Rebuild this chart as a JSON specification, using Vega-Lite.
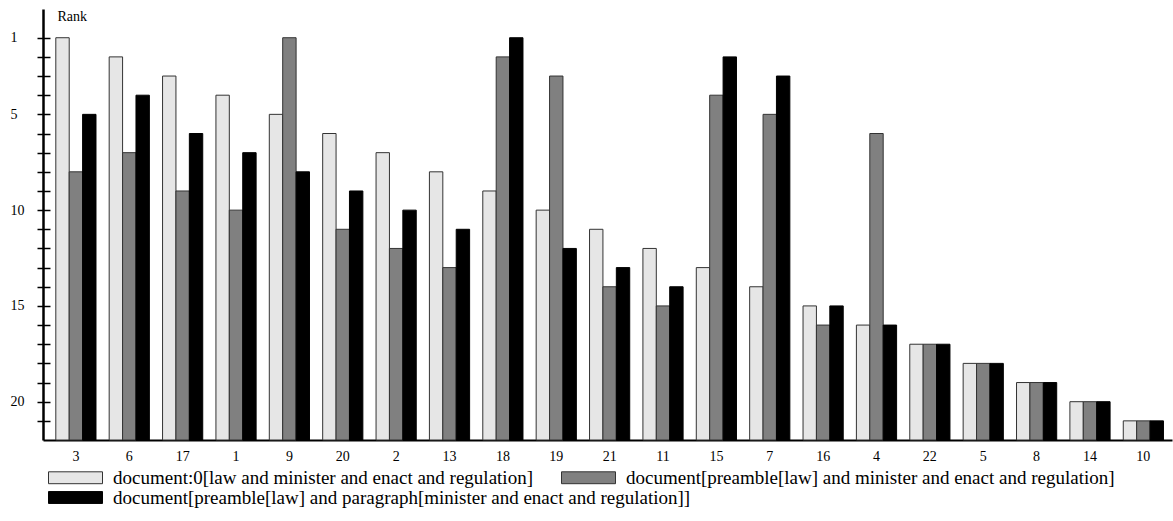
{
  "$schema": "https://vega.github.io/schema/vega-lite/v6.json",
  "autosize": "none",
  "width": 1129,
  "height": 431,
  "padding": {"left": 43, "top": 9, "right": 1, "bottom": 81},
  "background": "white",
  "config": {
    "font": "Liberation Serif",
    "view": {"stroke": null}
  },
  "datasets": {
    "ranks": [
      {"doc": "3", "series": "s1", "rank": 1}, {"doc": "3", "series": "s2", "rank": 8}, {"doc": "3", "series": "s3", "rank": 5},
      {"doc": "6", "series": "s1", "rank": 2}, {"doc": "6", "series": "s2", "rank": 7}, {"doc": "6", "series": "s3", "rank": 4},
      {"doc": "17", "series": "s1", "rank": 3}, {"doc": "17", "series": "s2", "rank": 9}, {"doc": "17", "series": "s3", "rank": 6},
      {"doc": "1", "series": "s1", "rank": 4}, {"doc": "1", "series": "s2", "rank": 10}, {"doc": "1", "series": "s3", "rank": 7},
      {"doc": "9", "series": "s1", "rank": 5}, {"doc": "9", "series": "s2", "rank": 1}, {"doc": "9", "series": "s3", "rank": 8},
      {"doc": "20", "series": "s1", "rank": 6}, {"doc": "20", "series": "s2", "rank": 11}, {"doc": "20", "series": "s3", "rank": 9},
      {"doc": "2", "series": "s1", "rank": 7}, {"doc": "2", "series": "s2", "rank": 12}, {"doc": "2", "series": "s3", "rank": 10},
      {"doc": "13", "series": "s1", "rank": 8}, {"doc": "13", "series": "s2", "rank": 13}, {"doc": "13", "series": "s3", "rank": 11},
      {"doc": "18", "series": "s1", "rank": 9}, {"doc": "18", "series": "s2", "rank": 2}, {"doc": "18", "series": "s3", "rank": 1},
      {"doc": "19", "series": "s1", "rank": 10}, {"doc": "19", "series": "s2", "rank": 3}, {"doc": "19", "series": "s3", "rank": 12},
      {"doc": "21", "series": "s1", "rank": 11}, {"doc": "21", "series": "s2", "rank": 14}, {"doc": "21", "series": "s3", "rank": 13},
      {"doc": "11", "series": "s1", "rank": 12}, {"doc": "11", "series": "s2", "rank": 15}, {"doc": "11", "series": "s3", "rank": 14},
      {"doc": "15", "series": "s1", "rank": 13}, {"doc": "15", "series": "s2", "rank": 4}, {"doc": "15", "series": "s3", "rank": 2},
      {"doc": "7", "series": "s1", "rank": 14}, {"doc": "7", "series": "s2", "rank": 5}, {"doc": "7", "series": "s3", "rank": 3},
      {"doc": "16", "series": "s1", "rank": 15}, {"doc": "16", "series": "s2", "rank": 16}, {"doc": "16", "series": "s3", "rank": 15},
      {"doc": "4", "series": "s1", "rank": 16}, {"doc": "4", "series": "s2", "rank": 6}, {"doc": "4", "series": "s3", "rank": 16},
      {"doc": "22", "series": "s1", "rank": 17}, {"doc": "22", "series": "s2", "rank": 17}, {"doc": "22", "series": "s3", "rank": 17},
      {"doc": "5", "series": "s1", "rank": 18}, {"doc": "5", "series": "s2", "rank": 18}, {"doc": "5", "series": "s3", "rank": 18},
      {"doc": "8", "series": "s1", "rank": 19}, {"doc": "8", "series": "s2", "rank": 19}, {"doc": "8", "series": "s3", "rank": 19},
      {"doc": "14", "series": "s1", "rank": 20}, {"doc": "14", "series": "s2", "rank": 20}, {"doc": "14", "series": "s3", "rank": 20},
      {"doc": "10", "series": "s1", "rank": 21}, {"doc": "10", "series": "s2", "rank": 21}, {"doc": "10", "series": "s3", "rank": 21}
    ]
  },
  "data": {"name": "ranks"},
  "resolve": {"axis": {"y": "independent"}},
  "encoding": {
    "x": {
      "field": "doc", "type": "nominal", "sort": null,
      "scale": {"paddingInner": 0.247, "paddingOuter": 0.2, "align": 0.6},
      "axis": {
        "title": null, "labelAngle": 0, "ticks": false, "labelPadding": 9,
        "labelFontSize": 14, "labelColor": "black", "labelFont": "Liberation Serif",
        "domainColor": "black", "domainWidth": 2, "grid": false
      }
    },
    "xOffset": {
      "field": "series", "type": "nominal",
      "scale": {"domain": ["s1", "s2", "s3"], "paddingInner": 0, "paddingOuter": 0}
    },
    "y2": {"datum": 22}
  },
  "layer": [
    {
      "transform": [{"filter": "datum.series !== 's3'"}],
      "mark": {"type": "bar", "stroke": "#333333", "strokeWidth": 1},
      "encoding": {
        "y": {
          "field": "rank", "type": "quantitative",
          "scale": {"domain": [-0.5, 22], "reverse": true, "nice": false, "zero": false},
          "axis": {
            "orient": "left", "grid": false,
            "values": [1, 2, 3, 4, 5, 6, 7, 8, 9, 10, 11, 12, 13, 14, 15, 16, 17, 18, 19, 20, 21],
            "labelExpr": "indexof([1, 5, 10, 15, 20], datum.value) >= 0 ? datum.label : ''",
            "domainColor": "black", "domainWidth": 2.5,
            "tickColor": "black", "tickWidth": 1.5, "tickSize": 6,
            "labelAlign": "left", "labelPadding": 27, "labelBaseline": "middle",
            "labelFontSize": 14, "labelColor": "black", "labelFont": "Liberation Serif",
            "title": "Rank", "titleAngle": 0, "titleAlign": "left", "titleBaseline": "middle",
            "titleX": 14, "titleY": 7, "titleFontSize": 14, "titleFontWeight": "normal",
            "titleColor": "black", "titleFont": "Liberation Serif"
          }
        },
        "color": {
          "field": "series", "type": "nominal",
          "scale": {"domain": ["s1", "s2"], "range": ["#e6e6e6", "#808080"]},
          "legend": {
            "title": null, "orient": "none", "legendX": 5, "legendY": 441,
            "direction": "horizontal", "columnPadding": 26,
            "symbolType": "M-1,-0.22L1,-0.22L1,0.22L-1,0.22Z", "symbolSize": 2916,
            "symbolStrokeColor": "#333333", "symbolStrokeWidth": 1,
            "labelFontSize": 19, "labelFont": "Liberation Serif", "labelColor": "black",
            "labelLimit": 1000, "labelOffset": 10,
            "labelExpr": "datum.value === 's1' ? 'document:0[law and minister and enact and regulation]' : 'document[preamble[law] and minister and enact and regulation]'"
          }
        }
      }
    },
    {
      "transform": [{"filter": "datum.series === 's3'"}],
      "mark": {"type": "bar", "stroke": "#000000", "strokeWidth": 1},
      "encoding": {
        "y": {
          "field": "rank", "type": "quantitative",
          "scale": {"domain": [-0.5, 22], "reverse": true, "nice": false, "zero": false},
          "axis": {
            "orient": "left", "offset": -7, "grid": false, "domain": false, "labels": false,
            "values": [1, 2, 3, 4, 5, 6, 7, 8, 9, 10, 11, 12, 13, 14, 15, 16, 17, 18, 19, 20, 21],
            "tickColor": "black", "tickWidth": 1.5, "tickSize": 7, "title": null
          }
        },
        "fill": {
          "field": "series", "type": "nominal",
          "scale": {"domain": ["s3"], "range": ["#000000"]},
          "legend": {
            "title": null, "orient": "none", "legendX": 5, "legendY": 461,
            "direction": "horizontal",
            "symbolType": "M-1,-0.22L1,-0.22L1,0.22L-1,0.22Z", "symbolSize": 2916,
            "symbolStrokeColor": "#000000", "symbolStrokeWidth": 1,
            "labelFontSize": 19, "labelFont": "Liberation Serif", "labelColor": "black",
            "labelLimit": 1000, "labelOffset": 10,
            "labelExpr": "'document[preamble[law] and paragraph[minister and enact and regulation]]'"
          }
        }
      }
    }
  ]
}
